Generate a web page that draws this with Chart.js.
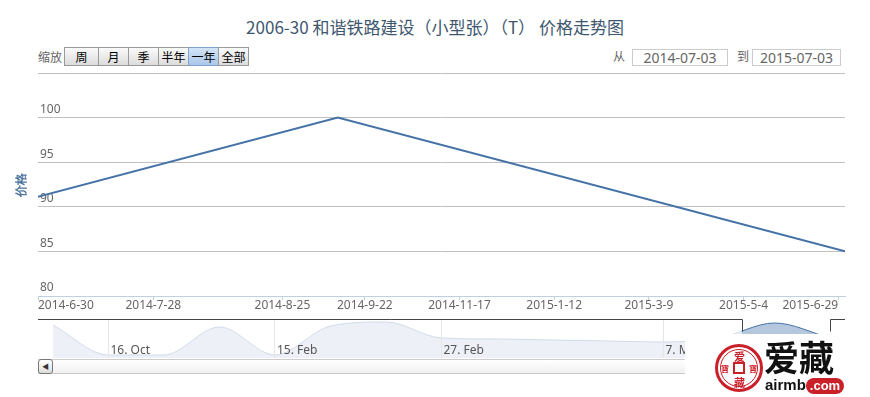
<!DOCTYPE html>
<html>
<head>
<meta charset="utf-8">
<script src="https://cdn.jsdelivr.net/npm/chart.js@4.4.1/dist/chart.umd.min.js"></script>
<style>
  body { margin: 0; width: 870px; height: 397px; background: #fff; position: relative; overflow: hidden;
         font-family: "Noto Sans CJK SC", "Noto Sans", sans-serif; }
  .abs { position: absolute; box-sizing: border-box; }
  #title { left: 0; width: 870px; top: 14px; text-align: center; font-size: 17px; color: #3E576F; line-height: 26px; }
  .lbl { font-size: 12px; color: #666; line-height: 18px; }
  .btn { height: 19px; border: 1px solid #999; background: linear-gradient(#fafafa, #dcdcdc);
         font-size: 12px; line-height: 17px; text-align: center; color: #000; }
  .btn.on { background: linear-gradient(#d3e4f7, #a9c7ea); border-color: #7ea3cf; }
  .inp { height: 17px; border: 1px solid #ccc; font-size: 14px; line-height: 15px; text-align: center; color: #666;
         font-family: "Noto Sans", sans-serif; }
  #track { left: 38px; top: 359px; width: 807px; height: 15px; border-top: 1px solid #ccc; border-bottom: 1px solid #ccc;
           background: linear-gradient(#fff, #f0f0f0); }
  #btnL { left: 38px; top: 359px; width: 15px; height: 15px; border: 1px solid #777; border-radius: 3px;
          background: linear-gradient(#fff, #ddd); font-size: 7px; line-height: 13px; text-align: center; color: #333; }
  #wm { left: 685px; top: 334px; width: 185px; height: 63px; background: #fff; }
  #coin { left: 715px; top: 344px; width: 48px; height: 48px; border: 3px solid #c9202a; border-radius: 50%; }
  #coin2 { left: 720px; top: 349px; width: 38px; height: 38px; border: 1px solid #c9202a; border-radius: 50%; }
  #hole { left: 733px; top: 362px; width: 12px; height: 12px; border: 2px solid #c9202a; }
  .cc { color: #c9202a; font-size: 11px; font-weight: bold; line-height: 12px; }
  #big { left: 764px; top: 335px; font-size: 35px; font-weight: bold; color: #111; line-height: 42px; }
  #airmb { left: 765px; top: 376px; font-size: 15px; font-weight: bold; color: #111; line-height: 18px; font-family: "Liberation Sans", sans-serif; }
  #com { left: 806px; top: 378px; width: 38px; height: 16px; border-radius: 8px; background: #c9202a; color: #fff;
         font-size: 13px; font-weight: bold; line-height: 16px; text-align: center; font-family: "Liberation Sans", sans-serif; }
</style>
</head>
<body>
<div id="title" class="abs"></div>
<div id="selector"></div>
<canvas id="main" class="abs" style="left:0;top:0" width="870" height="320"></canvas>
<canvas id="nav" class="abs" style="left:0;top:318px" width="870" height="42"></canvas>
<div id="track" class="abs"></div>
<div id="btnL" class="abs">◀</div>
<div id="wm" class="abs"></div>
<div id="coin" class="abs"></div>
<div id="coin2" class="abs"></div>
<div id="hole" class="abs"></div>
<div class="abs cc" style="left:734px;top:350px">爱</div>
<div class="abs cc" style="left:734px;top:376px">藏</div>
<div class="abs cc" style="left:721px;top:363px;font-size:8px">寶</div>
<div class="abs cc" style="left:749px;top:363px;font-size:8px">寶</div>
<div id="big" class="abs">爱藏</div>
<div id="airmb" class="abs">airmb</div>
<div id="com" class="abs">.com</div>
<script>
const chartTitle = '2006-30 和谐铁路建设（小型张）（T） 价格走势图';
const zoomButtons = ['周', '月', '季', '半年', '一年', '全部'];
const zoomSelected = '一年';
const rangeFrom = '2014-07-03';
const rangeTo = '2015-07-03';

// 主图里的价格点
const recentDates = ['2014-05-19', '2014-09-06', '2015-07-03'];
const recentPrices = [85, 100, 85];
// 更早的价格，只出现在下面的导航条里
const earlyPrices = [98, 68, 68, 96, 68, 97, 101, 85, 84, 83, 82, 81];

const xTickLabels = ['2014-6-30', '2014-7-28', '2014-8-25', '2014-9-22', '2014-11-17',
                     '2015-1-12', '2015-3-9', '2015-5-4', '2015-6-29'];
const yTicks = [80, 85, 90, 95, 100, 105];
const navTickLabels = ['16. Oct', '15. Feb', '27. Feb', '7. Mar'];
const navTickIndex = [1, 4, 7, 11];

const tickFont = { family: '"Noto Sans", sans-serif', size: 12 };

// 顶部标题和缩放按钮
document.getElementById('title').textContent = chartTitle;
let html = '<div class="abs lbl" style="left:38px;top:48px">缩放</div>';
let left = 64;
zoomButtons.forEach((b, i) => {
  const w = i === 0 ? 35 : 31;
  html += '<div class="abs btn' + (b === zoomSelected ? ' on' : '') + '" style="left:' + left + 'px;top:47px;width:' + w + 'px">' + b + '</div>';
  left += w - 1;
});
html += '<div class="abs lbl" style="left:613px;top:47px">从</div>';
html += '<div class="abs inp" style="left:632px;top:49px;width:96px">' + rangeFrom + '</div>';
html += '<div class="abs lbl" style="left:737px;top:47px">到</div>';
html += '<div class="abs inp" style="left:752px;top:49px;width:89px">' + rangeTo + '</div>';
document.getElementById('selector').innerHTML = html;

// 日期 -> 有序轴位置（每个数据点等距）
const day = s => { const p = s.split('-').map(Number); return Date.UTC(p[0], p[1] - 1, p[2]) / 864e5; };
const base = earlyPrices.length;
function ord(s) {
  const t = day(s), ds = recentDates.map(day);
  let i = 0;
  while (i < ds.length - 2 && t > ds[i + 1]) i++;
  return base + i + (t - ds[i]) / (ds[i + 1] - ds[i]);
}
const xMin = ord(rangeFrom);
const xMax = ord(rangeTo);

new Chart(document.getElementById('main'), {
  type: 'line',
  data: {
    datasets: [{
      data: recentDates.map((d, i) => ({ x: ord(d), y: recentPrices[i] })),
      borderColor: '#4572A7',
      borderWidth: 2,
      pointRadius: 0,
      tension: 0
    }]
  },
  options: {
    responsive: false,
    animation: false,
    layout: { padding: { top: 73, right: 25, left: 0, bottom: 0 } },
    plugins: { legend: { display: false }, tooltip: { enabled: false } },
    scales: {
      x: {
        type: 'linear', min: xMin, max: xMax,
        afterBuildTicks: s => { s.ticks = xTickLabels.map(l => ({ value: Math.max(ord(l), xMin) })); },
        ticks: { callback: (v, i) => xTickLabels[i], align: 'inner', autoSkip: false, maxRotation: 0,
                 color: '#666', font: tickFont, padding: -2 },
        grid: { drawOnChartArea: false, tickLength: 4, color: '#C0D0E0' },
        border: { color: '#C0D0E0' },
        afterFit: s => { s.height = 24; }
      },
      y: {
        min: yTicks[0], max: yTicks[yTicks.length - 1],
        afterBuildTicks: s => { s.ticks = yTicks.map(v => ({ value: v })); },
        ticks: { mirror: true, padding: 2, labelOffset: -8, color: '#666', font: tickFont,
                 callback: v => v === yTicks[yTicks.length - 1] ? '' : v },
        grid: { color: '#C0C0C0', drawTicks: false },
        border: { display: false },
        title: { display: true, text: '价格', color: '#4d759e', font: { size: 12, weight: 'bold' }, padding: { top: 14 } },
        afterFit: s => { s.width = 38; }
      }
    }
  }
});

// 导航条
const navPrices = earlyPrices.concat(recentPrices);
const navPad = 0.27;
new Chart(document.getElementById('nav'), {
  type: 'line',
  data: {
    datasets: [{
      data: navPrices.map((v, i) => ({ x: i, y: v })),
      borderColor: '#4572A7',
      borderWidth: 1,
      backgroundColor: 'rgba(69, 114, 167, 0.4)',
      fill: 'start',
      pointRadius: 0,
      cubicInterpolationMode: 'monotone'
    }]
  },
  options: {
    responsive: false,
    animation: false,
    layout: { padding: { top: 2, right: 25, left: 38, bottom: 2 } },
    plugins: { legend: { display: false }, tooltip: { enabled: false } },
    scales: {
      x: {
        type: 'linear', min: -navPad, max: navPrices.length - 1 + navPad,
        afterBuildTicks: s => { s.ticks = navTickIndex.map(v => ({ value: v })); },
        ticks: { display: false, callback: (v, i) => navTickLabels[i] },
        grid: { color: '#e6e6e6', drawTicks: false, z: 1 },
        border: { display: false },
        afterFit: s => { s.height = 0; }
      },
      y: { display: false, min: 65, max: 103 }
    }
  },
  plugins: [{
    id: 'mask',
    afterDatasetsDraw(c) {
      const { ctx, chartArea: a, scales: { x } } = c;
      const x0 = x.getPixelForValue(xMin), x1 = x.getPixelForValue(xMax);
      ctx.save();
      ctx.fillStyle = 'rgba(255, 255, 255, 0.75)';
      ctx.fillRect(a.left, a.top, x0 - a.left, a.bottom - a.top);
      ctx.fillRect(x1, a.top, a.right - x1, a.bottom - a.top);
      ctx.restore();
    },
    afterDraw(c) {
      const { ctx, chartArea: a, scales: { x } } = c;
      const x0 = Math.round(x.getPixelForValue(xMin)) + 0.5, x1 = Math.round(x.getPixelForValue(xMax)) + 0.5;
      const y = a.top - 0.5;
      ctx.save();
      ctx.strokeStyle = '#444';
      ctx.lineWidth = 1;
      ctx.beginPath();
      ctx.moveTo(a.left, y); ctx.lineTo(x0, y); ctx.lineTo(x0, y + 12);
      ctx.moveTo(x1, y + 12); ctx.lineTo(x1, y); ctx.lineTo(a.right, y);
      ctx.stroke();
      // 导航轴标签画在导航区内部，靠下
      ctx.fillStyle = '#555';
      ctx.font = '12px "Noto Sans", sans-serif';
      ctx.textBaseline = 'alphabetic';
      x.ticks.forEach(t => ctx.fillText(t.label, x.getPixelForValue(t.value) + 2, a.bottom - 4));
      ctx.restore();
    }
  }]
});
</script>
</body>
</html>
